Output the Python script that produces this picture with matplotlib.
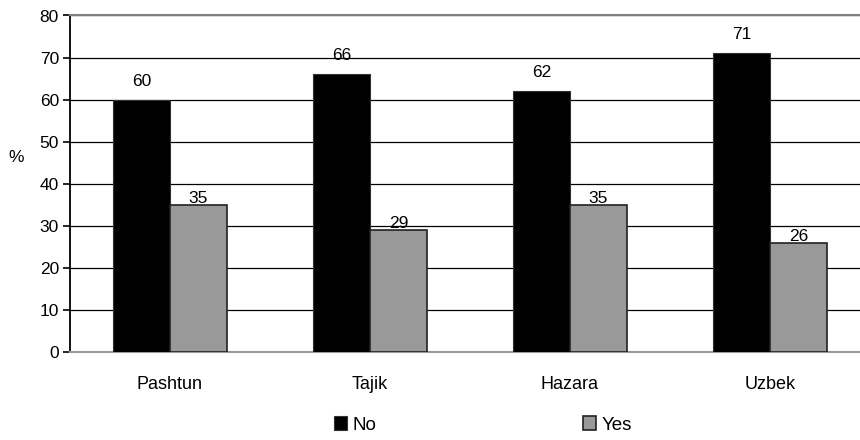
import numpy as np
import matplotlib.pyplot as plt

plt.rcParams['font.family'] = ['Liberation Sans', 'DejaVu Sans']

# Data
groups = ["Pashtun", "Tajik", "Hazara", "Uzbek"]
no_vals = [60, 66, 62, 71]
yes_vals = [35, 29, 35, 26]

fig = plt.figure(figsize=(8.6, 4.4), dpi=100)
ax = fig.add_axes([70 / 860, 88 / 440, 800 / 860, 336.5 / 440])

x = np.arange(len(groups))
w = 0.285
b1 = ax.bar(x - w / 2, no_vals, w, color="black", edgecolor="#333333", linewidth=0.8, label="No", zorder=3)
b2 = ax.bar(x + w / 2, yes_vals, w, color="#999999", edgecolor="#222222", linewidth=1.2, label="Yes", zorder=3)

# value labels
for xi, v in zip(x - w / 2, no_vals):
    ax.annotate(str(v), (xi, v), xytext=(0, 8), textcoords="offset points",
                ha="center", va="bottom", fontsize=12.5)
for xi, v in zip(x + w / 2, yes_vals):
    ax.annotate(str(v), (xi, v), xytext=(0, -1), textcoords="offset points",
                ha="center", va="bottom", fontsize=12.5)

ax.set_xlim(-0.5, 3.5)
ax.set_ylim(0, 80)
ax.set_yticks(range(0, 81, 10))
ax.yaxis.grid(True, color="black", linewidth=0.9, zorder=0)
ax.set_axisbelow(True)
ax.set_xticks(x)
ax.set_xticklabels(groups, fontsize=13)
ax.tick_params(axis="x", length=0, pad=17)
ax.tick_params(axis="y", labelsize=12.5, length=5, width=1.2, direction="out", pad=3)

ax.spines["right"].set_visible(False)
ax.spines["top"].set_color("#808080")
ax.spines["top"].set_linewidth(1.5)
ax.spines["bottom"].set_color("#999999")
ax.spines["bottom"].set_linewidth(1.5)
ax.spines["left"].set_linewidth(1.3)

fig.text(16 / 860, 1 - 157 / 440, "%", ha="center", va="center", fontsize=12.5)

fig.legend(handles=[b1, b2], labels=["No", "Yes"], loc="center",
           bbox_to_anchor=(483 / 860, 1 - 425 / 440), ncol=2, frameon=False,
           fontsize=13.5, handlelength=0.7, handleheight=0.7, handletextpad=0.3,
           columnspacing=11)

fig.savefig("out.png", dpi=100)
